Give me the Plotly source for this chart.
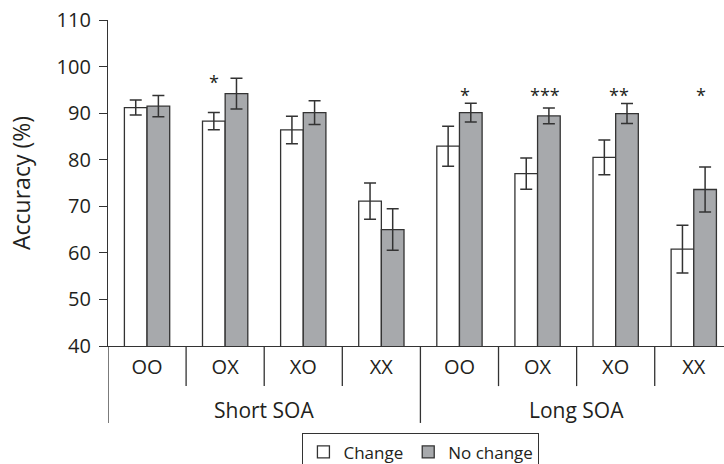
import plotly.graph_objects as go

# Conditions and SOA groups
conditions = ["OO", "OX", "XO", "XX", "OO", "OX", "XO", "XX"]
soa_groups = ["Short SOA", "Long SOA"]
group_sizes = [4, 4]

# Mean accuracy (%) and error half-widths
change_mean = [91.2, 88.3, 86.4, 71.1, 82.9, 77.0, 80.5, 60.8]
change_err = [1.6, 1.85, 2.95, 3.9, 4.3, 3.35, 3.75, 5.15]
nochange_mean = [91.5, 94.2, 90.1, 65.0, 90.1, 89.4, 89.9, 73.6]
nochange_err = [2.3, 3.3, 2.55, 4.45, 2.0, 1.7, 2.15, 4.85]

# Significance markers: (condition index, offset within the pair, level, label)
sig_marks = [(1, -0.14, 96.7, "*"), (4, 0.07, 94.0, "*"), (5, 0.09, 94.0, "***"),
             (6, 0.04, 94.0, "**"), (7, 0.09, 94.0, "*")]

FONT = "Open Sans"
INK = "#231f20"
LINE = "#333333"
GRAY = "#a7a9ac"

xpos = list(range(len(conditions)))

fig = go.Figure()
fig.add_trace(go.Bar(
    x=xpos, y=change_mean, name="Change",
    marker=dict(color="white", line=dict(color=LINE, width=1.3)),
    error_y=dict(type="data", array=change_err, color=LINE, thickness=1.5, width=6),
))
fig.add_trace(go.Bar(
    x=xpos, y=nochange_mean, name="No change",
    marker=dict(color=GRAY, line=dict(color=LINE, width=1.3)),
    error_y=dict(type="data", array=nochange_err, color=LINE, thickness=1.5, width=6),
))

shapes = []
# short separators between conditions, long ones between SOA groups
boundaries = []
start = 0
for n in group_sizes:
    boundaries.append(start)
    start += n
for i in range(len(conditions)):
    is_group = i in boundaries
    shapes.append(dict(
        type="line", xref="x", yref="paper",
        x0=i - 0.5, x1=i - 0.5, y0=0, y1=-0.236 if is_group else -0.123,
        line=dict(color=LINE, width=1.3), layer="above",
    ))

annotations = []
start = 0
for g, n in zip(soa_groups, group_sizes):
    annotations.append(dict(
        x=start + (n - 1) / 2, y=-0.196, xref="x", yref="paper",
        text=g, showarrow=False, yanchor="middle",
        font=dict(family=FONT, size=21, color=INK),
    ))
    start += n
for idx, off, lvl, lab in sig_marks:
    annotations.append(dict(
        x=idx + off, y=lvl, xref="x", yref="y", text=lab, showarrow=False,
        yanchor="middle", font=dict(family=FONT, size=18, color=INK),
    ))

fig.update_layout(
    width=724, height=464,
    margin=dict(l=108, r=0, t=20, b=118, autoexpand=False),
    paper_bgcolor="white", plot_bgcolor="white",
    barmode="group", bargap=0.42, bargroupgap=0,
    font=dict(family=FONT, size=18, color=INK),
    showlegend=True,
    legend=dict(
        orientation="h", x=0.508, xanchor="center",
        yref="container", y=0.066, yanchor="top",
        bordercolor=LINE, borderwidth=1, itemwidth=30,
        font=dict(family=FONT, size=17, color=INK),
    ),
    xaxis=dict(
        range=[-0.5, 7.387], tickvals=xpos, ticktext=conditions,
        showline=True, linecolor=LINE, linewidth=1.3,
        ticks="", showgrid=False, zeroline=False, ticklabelstandoff=3,
        tickfont=dict(family=FONT, size=20, color=INK),
    ),
    yaxis=dict(
        range=[40, 110], dtick=10, tick0=40,
        showline=True, linecolor=LINE, linewidth=1.3,
        ticks="outside", ticklen=8, tickcolor=LINE, tickwidth=1.3,
        showgrid=False, zeroline=False, ticklabelstandoff=4,
        tickfont=dict(family=FONT, size=20, color=INK),
        title=dict(text="Accuracy (%)", standoff=19,
                   font=dict(family=FONT, size=23, color=INK)),
    ),
    shapes=shapes, annotations=annotations,
)

fig.write_html("out.html")
